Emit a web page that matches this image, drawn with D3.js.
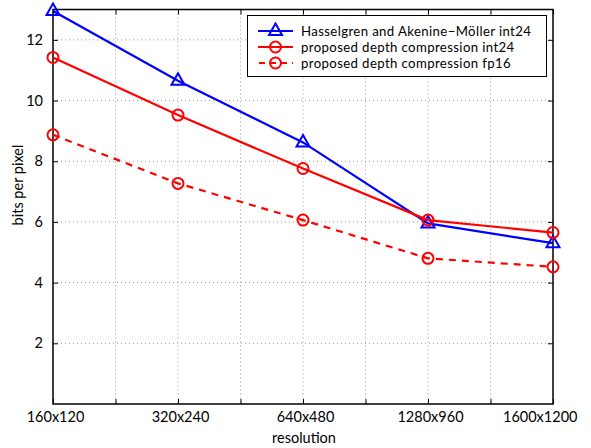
<!DOCTYPE html>
<html><head><meta charset="utf-8">
<script src="https://cdn.jsdelivr.net/npm/d3@7"></script>
<style>body{margin:0;background:#fff}svg{display:block}text{font-family:Lato,"Open Sans",sans-serif}</style>
</head><body><svg id="c" width="591" height="448"></svg>
<script>
const categories = ["160x120","320x240","640x480","1280x960","1600x1200"];
const hasselgren = [12.95, 10.65, 8.62, 5.95, 5.3];
const proposedInt24 = [11.42, 9.52, 7.76, 6.06, 5.65];
const proposedFp16 = [8.87, 7.27, 6.06, 4.8, 4.52];
const yTicks = [2,4,6,8,10,12];
const seriesNames = ["Hasselgren and Akenine\u2212M\u00f6ller int24","proposed depth compression int24","proposed depth compression fp16"];

const svg = d3.select("#c");
const W = 591;
const L=53, R=553, T=9.5, B=404;
const FS = "14.5px";
const x = d3.scaleLinear().domain([0, categories.length-1]).range([L,R]);
const y = d3.scaleLinear().domain([0,13]).range([B,T]);
const halfTicks = d3.range(0, categories.length-0.5, 0.5);

// grid
const g = svg.append("g");
g.selectAll(".vg").data(halfTicks.filter(d=>d>0 && d<categories.length-1)).join("line")
  .attr("x1",d=>x(d)).attr("x2",d=>x(d)).attr("y1",T).attr("y2",B)
  .attr("stroke","#999").attr("stroke-width",1).attr("stroke-dasharray","1,3");
g.selectAll(".hg").data(yTicks).join("line")
  .attr("x1",L).attr("x2",R).attr("y1",d=>y(d)).attr("y2",d=>y(d))
  .attr("stroke","#999").attr("stroke-width",1).attr("stroke-dasharray","1,3");

// axes
const xAxis = d3.axisBottom(x).tickValues(halfTicks).tickSize(5).tickFormat(d=>Number.isInteger(d)?categories[d]:"");
const xAxisTop = d3.axisTop(x).tickValues(halfTicks).tickSize(5).tickFormat("");
const yAxis = d3.axisLeft(y).tickValues(yTicks).tickSize(5).tickFormat(d3.format("d"));
const yAxisR = d3.axisRight(y).tickValues(yTicks).tickSize(5).tickFormat("");
function styleAx(sel){
  sel.select(".domain").remove();
  sel.selectAll(".tick line").attr("stroke","#000").attr("stroke-width",1);
  sel.selectAll("text").attr("fill","#000").style("font-size",FS);
}
svg.append("g").attr("transform",`translate(0,${B})`).call(xAxis).call(s=>{
  styleAx(s); s.selectAll(".tick line").attr("y2",-5);
  s.selectAll("text").attr("y",8).attr("dx",2);
  // last label kept inside the figure, right-aligned near the edge
  s.selectAll(".tick").filter(d=>d===categories.length-1).select("text")
    .attr("text-anchor","end").attr("dx",0).attr("x",W-14-R);
});
svg.append("g").attr("transform",`translate(0,${T})`).call(xAxisTop).call(s=>{styleAx(s); s.selectAll(".tick line").attr("y2",5);});
svg.append("g").attr("transform",`translate(${L},0)`).call(yAxis).call(s=>{styleAx(s); s.selectAll(".tick line").attr("x2",5); s.selectAll("text").attr("x",-10);});
svg.append("g").attr("transform",`translate(${R},0)`).call(yAxisR).call(s=>{styleAx(s); s.selectAll(".tick line").attr("x2",-5);});
svg.append("rect").attr("x",L).attr("y",T).attr("width",R-L).attr("height",B-T)
  .attr("fill","none").attr("stroke","#000").attr("stroke-width",1.5);

// labels
svg.append("text").attr("x",(L+R)/2+1).attr("y",443).attr("text-anchor","middle").style("font-size",FS).text("resolution");
svg.append("text").attr("transform","translate(23,185) rotate(-90)").attr("text-anchor","middle").style("font-size",FS).text("bits per pixel");

// series
const series = [
  {vals:hasselgren, color:"#0000ff", dash:null, marker:"tri"},
  {vals:proposedInt24, color:"#ff0000", dash:null, marker:"circ"},
  {vals:proposedFp16, color:"#ff0000", dash:"7,6", marker:"circ"}
];
const line = d3.line().x((d,i)=>x(i)).y(d=>y(d));
const triPath = "M0,-7.5L6.5,4L-6.5,4Z";
function drawMarker(sel, s){
  if(s.marker==="tri") sel.append("path").attr("d",triPath).attr("fill","none").attr("stroke",s.color).attr("stroke-width",2);
  else sel.append("circle").attr("r",5.5).attr("fill","none").attr("stroke",s.color).attr("stroke-width",2);
}
series.forEach(s=>{
  svg.append("path").datum(s.vals).attr("d",line).attr("fill","none").attr("stroke",s.color)
    .attr("stroke-width",2.2).attr("stroke-dasharray",s.dash);
  s.vals.forEach((v,i)=>{
    const m = svg.append("g").attr("transform",`translate(${x(i)},${y(v)})`);
    drawMarker(m,s);
  });
});

// legend
const lg = svg.append("g");
lg.append("rect").attr("x",247.5).attr("y",15.5).attr("width",299).attr("height",61).attr("fill","#fff").attr("stroke","#000").attr("stroke-width",1);
series.forEach((s,i)=>{
  const yy = 31 + i*16;
  lg.append("line").attr("x1",258).attr("x2",293).attr("y1",yy).attr("y2",yy).attr("stroke",s.color).attr("stroke-width",2)
    .attr("stroke-dasharray",s.dash?"6,5":null).attr("stroke-dashoffset",s.dash?-1:null);
  const m = lg.append("g").attr("transform",`translate(275.5,${yy})`);
  drawMarker(m,s);
  lg.append("text").attr("x",301).attr("y",yy+4.5).style("font-size","13.2px").style("letter-spacing","0.38px")
    .attr("fill","#000").text(seriesNames[i]);
});
</script></body></html>
